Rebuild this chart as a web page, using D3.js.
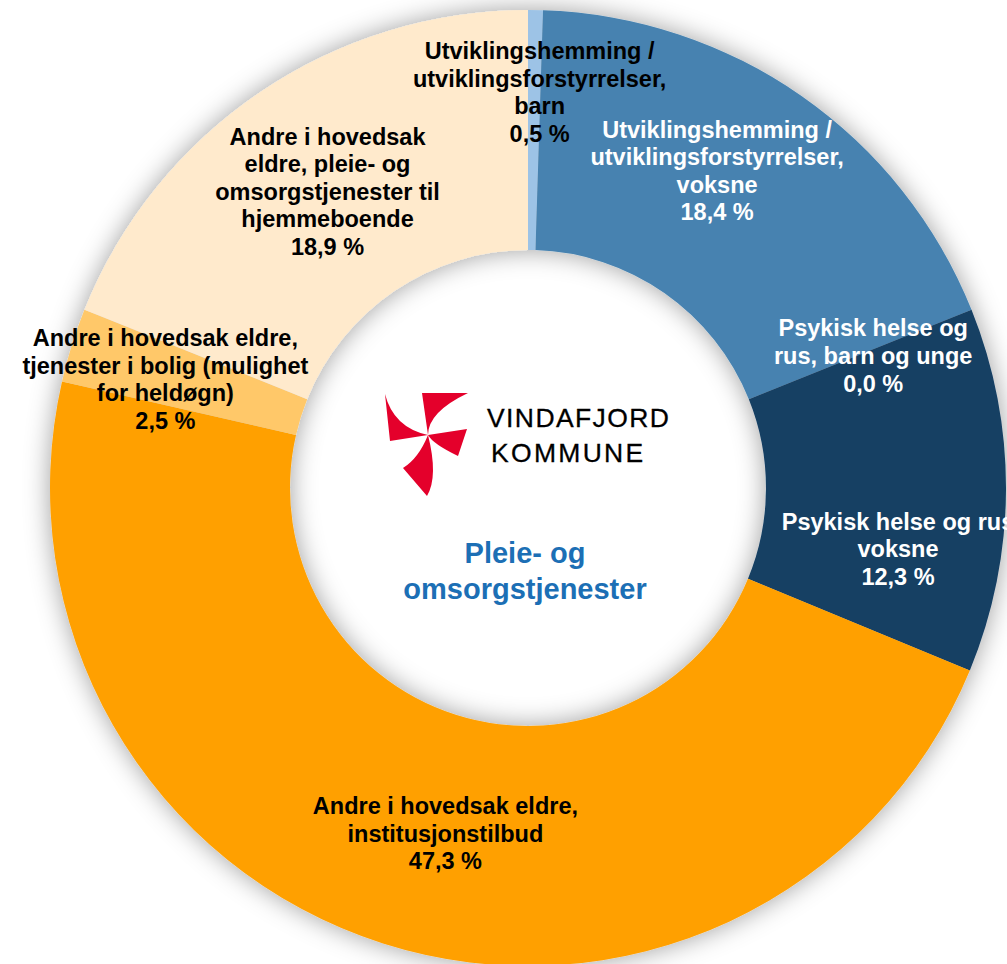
<!DOCTYPE html>
<html><head><meta charset="utf-8">
<script src="https://cdn.jsdelivr.net/npm/d3@7"></script>
<style>html,body{margin:0;padding:0;background:#fff;overflow:hidden}</style>
</head><body>
<svg id="chart" width="1007" height="964"></svg>
<script>
// ---- data ----
const categories = [
  "Utviklingshemming /\nutviklingsforstyrrelser,\nbarn",
  "Utviklingshemming /\nutviklingsforstyrrelser,\nvoksne",
  "Psykisk helse og\nrus, barn og unge",
  "Psykisk helse og rus\nvoksne",
  "Andre i hovedsak eldre,\ninstitusjonstilbud",
  "Andre i hovedsak eldre,\ntjenester i bolig (mulighet\nfor heldøgn)",
  "Andre i hovedsak\neldre, pleie- og\nomsorgstjenester til\nhjemmeboende"
];
const values = [0.5, 18.4, 0.0, 12.3, 47.3, 2.5, 18.9];
const sliceColors = ["#9dc3e6", "#4682b0", "#2e75b6", "#153f63", "#ffa000", "#ffc869", "#ffeacc"];
const labelColors = ["#000", "#fff", "#fff", "#fff", "#000", "#000", "#000"];
const centerTitle = ["Pleie- og", "omsorgstjenester"];
const logoText = ["VINDAFJORD", "KOMMUNE"];

// ---- layout ----
const W = 1007, H = 964;
const cx = 528, cy = 488, rOuter = 478, rInner = 238;
const labelOffsets = [[6, -38], [-16, -24], [13, 1], [12, 59], [26, 4], [-21, -2], [0, 0]];
const labelFont = 23.5, labelLine = 27.6;

const svg = d3.select("#chart");
const defs = svg.append("defs");
const f = defs.append("filter").attr("id", "sh")
  .attr("x", "-20%").attr("y", "-20%").attr("width", "140%").attr("height", "140%");
f.append("feDropShadow").attr("dx", 0).attr("dy", 0).attr("stdDeviation", 13)
  .attr("flood-color", "#000").attr("flood-opacity", 0.38);

const g = svg.append("g").attr("transform", `translate(${cx},${cy})`);

const pie = d3.pie().sort(null).value(d => d).startAngle(0).endAngle(2 * Math.PI);
const arcs = pie(values);
const arc = d3.arc().innerRadius(rInner).outerRadius(rOuter);
const labelArc = d3.arc().innerRadius((rInner + rOuter) / 2).outerRadius((rInner + rOuter) / 2);

g.append("g").attr("filter", "url(#sh)")
  .selectAll("path").data(arcs).join("path")
  .attr("d", arc)
  .attr("fill", (d, i) => sliceColors[i]);

const fmt = v => d3.format(".1f")(v).replace(".", ",") + " %";

g.append("g").selectAll("text").data(arcs).join("text")
  .attr("text-anchor", "middle")
  .attr("font-family", "'Liberation Sans', Arial, sans-serif")
  .attr("font-weight", "bold")
  .attr("font-size", labelFont)
  .attr("fill", (d, i) => labelColors[i])
  .each(function (d, i) {
    const c = labelArc.centroid(d);
    const x = c[0] + labelOffsets[i][0], y = c[1] + labelOffsets[i][1];
    const lines = categories[i].split("\n").concat([fmt(values[i])]);
    const n = lines.length;
    d3.select(this).selectAll("tspan").data(lines).join("tspan")
      .attr("x", x)
      .attr("y", (t, k) => y + (k - (n - 1) / 2) * labelLine)
      .attr("dy", "0.36em")
      .text(t => t);
  });

// center title
g.append("text").attr("text-anchor", "middle")
  .attr("font-family", "'Liberation Sans', Arial, sans-serif")
  .attr("font-weight", "bold").attr("font-size", 29).attr("fill", "#1c6fb5")
  .selectAll("tspan").data(centerTitle).join("tspan")
  .attr("x", -3).attr("y", (t, k) => 75 + k * 36).text(t => t);

// logo
const logo = g.append("g").attr("transform", "translate(-148,-100)");
const C = [48, 47];
const blades = [
  `M${C} L10,53 L5,6 Q13.5,39.5 ${C} Z`,
  `M${C} L42,5 L88,5 Q48,24 ${C} Z`,
  `M${C} L87,41 L78,68 Q53,56 ${C} Z`,
  `M${C} Q58.5,88.5 47,108 L23,80 Q38.5,70.5 ${C} Z`
];
logo.selectAll("path").data(blades).join("path").attr("d", d => d).attr("fill", "#e4002b");
g.append("g").selectAll("text").data(logoText).join("text")
  .attr("x", (t, k) => k === 0 ? -41 : -37)
  .attr("y", (t, k) => k === 0 ? -61 : -26)
  .attr("font-family", "'Liberation Sans', Arial, sans-serif")
  .attr("font-size", 26.5).attr("letter-spacing", (t, k) => k === 0 ? 1.4 : 2.3)
  .attr("fill", "#000").attr("stroke", "#000").attr("stroke-width", 0.3)
  .text(t => t);
</script>
</body></html>
